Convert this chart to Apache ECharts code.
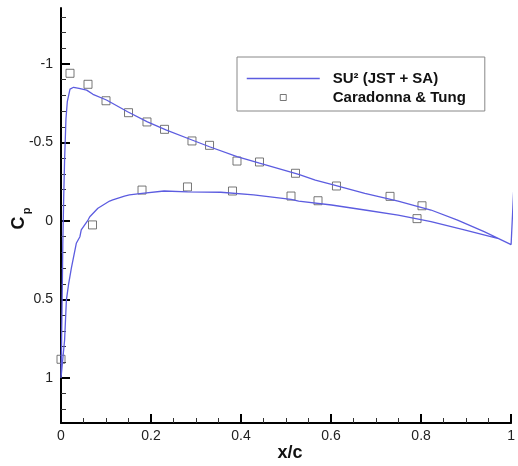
<!DOCTYPE html>
<html>
<head>
<meta charset="utf-8">
<style>html,body{margin:0;padding:0;background:#fff;}#c{width:518px;height:466px;}</style>
<script src="https://cdn.jsdelivr.net/npm/echarts@6/dist/echarts.min.js"></script>
</head>
<body>
<div id="c"></div>
<script>
// Experimental data (Caradonna & Tung)
const expX  = [0.020, 0.060, 0.100, 0.150, 0.191, 0.230, 0.291, 0.330, 0.391, 0.441, 0.521, 0.612, 0.731, 0.802,
               0.000, 0.070, 0.180, 0.281, 0.381, 0.511, 0.571, 0.791];
const expCp = [-0.941, -0.871, -0.766, -0.690, -0.631, -0.584, -0.510, -0.482, -0.382, -0.376, -0.304, -0.223, -0.157, -0.097,
               0.881, 0.025, -0.197, -0.217, -0.191, -0.159, -0.129, -0.015];
// SU2 (JST + SA) surface Cp: upper surface TE->LE, lower LE->TE, then TE jump
const su2X  = [1.000, 0.940, 0.881, 0.822, 0.749, 0.675, 0.601, 0.565, 0.528, 0.441, 0.391, 0.330, 0.291, 0.233, 0.192, 0.148, 0.101, 0.071, 0.057, 0.040, 0.028, 0.020, 0.014, 0.011, 0.008, 0.006, 0.004, 0.003, 0.002, 0.001, 0.000,
               0.002, 0.008, 0.012, 0.017, 0.023, 0.034, 0.042, 0.045, 0.060, 0.064, 0.082, 0.086, 0.108, 0.115, 0.141, 0.152, 0.180, 0.229, 0.281, 0.355, 0.428, 0.511, 0.528, 0.601, 0.675, 0.749, 0.822, 0.896, 0.970, 1.000,
               1.008];
const su2Cp = [0.150, 0.068, -0.006, -0.070, -0.127, -0.176, -0.234, -0.261, -0.297, -0.368, -0.410, -0.473, -0.516, -0.580, -0.632, -0.696, -0.771, -0.807, -0.834, -0.845, -0.852, -0.840, -0.760, -0.650, -0.390, -0.150, 0.150, 0.400, 0.600, 0.850, 1.000,
               0.992, 0.758, 0.503, 0.400, 0.300, 0.142, 0.100, 0.057, -0.006, -0.027, -0.081, -0.091, -0.127, -0.134, -0.159, -0.166, -0.176, -0.191, -0.185, -0.183, -0.166, -0.138, -0.127, -0.102, -0.070, -0.038, 0.004, 0.057, 0.110, 0.150,
               -0.336];
// Tick values
const yMajorTicks = [-1, -0.5, 0, 0.5, 1];
const yMinorTicks = [-1.3, -1.2, -1.1, -0.9, -0.8, -0.7, -0.6, -0.4, -0.3, -0.2, -0.1, 0.1, 0.2, 0.3, 0.4, 0.6, 0.7, 0.8, 0.9, 1.1, 1.2];

const FONT = "'Liberation Sans', Arial, sans-serif";
const LINE_COLOR = '#5c5ce0';
const chart = echarts.init(document.getElementById('c'), null, {renderer: 'canvas'});
const expData = expX.map((x, i) => [x, expCp[i]]);
const su2Data = su2X.map((x, i) => [x, su2Cp[i]]);

chart.setOption({
  animation: false,
  backgroundColor: '#fff',
  grid: {left: 61, right: 4, top: 8, bottom: 43, containLabel: false},
  xAxis: {
    type: 'value', min: 0, max: 1, interval: 0.2,
    axisLine: {show: true, onZero: false, lineStyle: {color: '#000', width: 2}},
    axisTick: {show: true, inside: true, length: 9, lineStyle: {color: '#000', width: 2}},
    minorTick: {show: true, splitNumber: 4, length: 5, lineStyle: {color: '#333', width: 1}},
    axisLabel: {show: true, margin: 6, fontFamily: FONT, fontSize: 14, color: '#222'},
    splitLine: {show: false}
  },
  yAxis: [{
    type: 'value', inverse: true, min: -1.357, max: 1.287, position: 'left',
    axisLine: {show: true, onZero: false, lineStyle: {color: '#000', width: 2}},
    axisTick: {show: true, inside: true, length: 9, customValues: yMajorTicks, lineStyle: {color: '#000', width: 2}},
    axisLabel: {show: true, margin: 8, customValues: yMajorTicks, fontFamily: FONT, fontSize: 14, color: '#222'},
    splitLine: {show: false}
  }, {
    type: 'value', inverse: true, min: -1.357, max: 1.287, position: 'left', offset: 0,
    axisLine: {show: false},
    axisTick: {show: true, inside: true, length: 5, customValues: yMinorTicks, lineStyle: {color: '#333', width: 1}},
    axisLabel: {show: false},
    splitLine: {show: false}
  }],
  legend: {
    left: 237, top: 57, orient: 'vertical',
    backgroundColor: '#fff', borderColor: '#888', borderWidth: 1,
    padding: [14, 19, 6, 9], itemGap: 4, itemWidth: 73, itemHeight: 6,
    textStyle: {fontFamily: FONT, fontSize: 15, fontWeight: 'bold', color: '#111', padding: [0, 0, 0, 8]},
    data: [
      {name: 'SU² (JST + SA)', itemStyle: {opacity: 0}, lineStyle: {color: LINE_COLOR, width: 1.5, opacity: 1}},
      {name: 'Caradonna & Tung', icon: 'path://M0,0L10,0L10,10L0,10Z', itemStyle: {color: 'rgba(255,255,255,0)', borderColor: '#555', borderWidth: 1}}
    ]
  },
  graphic: [
    {type: 'text', x: 290, y: 453, style: {text: 'x/c', font: "bold 18px " + FONT, fill: '#111', align: 'center', verticalAlign: 'middle'}},
    {type: 'text', x: 19, y: 223, rotation: Math.PI / 2, style: {text: 'C', font: "bold 18px " + FONT, fill: '#111', align: 'center', verticalAlign: 'middle'}},
    {type: 'text', x: 27, y: 211, rotation: Math.PI / 2, style: {text: 'p', font: "bold 11px " + FONT, fill: '#111', align: 'center', verticalAlign: 'middle'}}
  ],
  series: [{
    name: 'SU² (JST + SA)', type: 'line', data: su2Data, yAxisIndex: 0,
    showSymbol: false, symbol: 'none', clip: false, smooth: false,
    lineStyle: {color: LINE_COLOR, width: 1.3}, itemStyle: {color: LINE_COLOR}
  }, {
    name: 'Caradonna & Tung', type: 'scatter', data: expData, yAxisIndex: 0,
    symbol: 'rect', symbolSize: 8, clip: false,
    itemStyle: {color: 'rgba(255,255,255,0)', borderColor: '#555', borderWidth: 1}
  }]
});
</script>
</body>
</html>
